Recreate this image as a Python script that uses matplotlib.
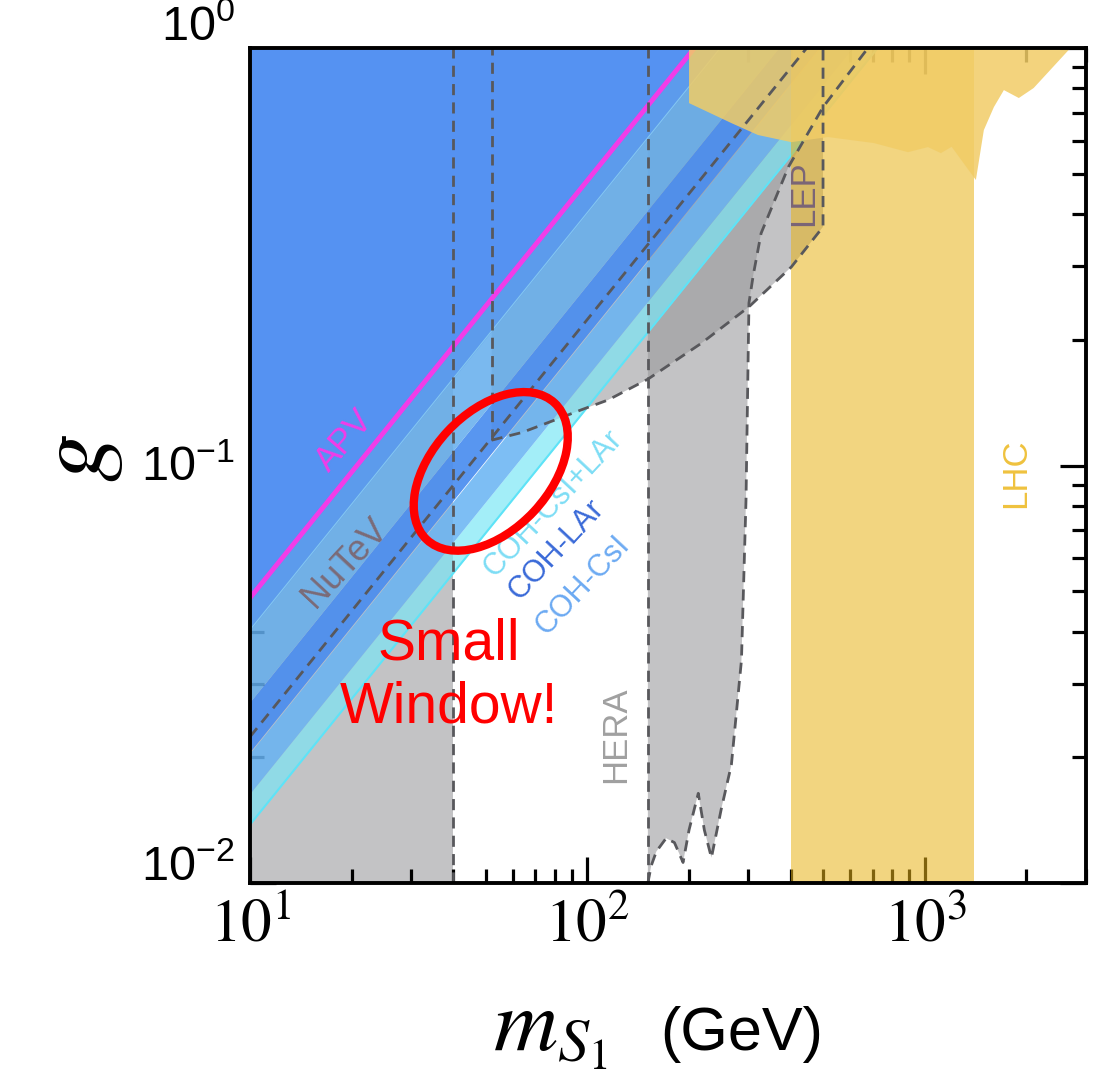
import numpy as np
import matplotlib.pyplot as plt
from matplotlib.patches import Ellipse
from matplotlib.transforms import ScaledTranslation

plt.rcParams['font.family'] = ['Liberation Sans', 'DejaVu Sans']
plt.rcParams['mathtext.fontset'] = 'custom'
plt.rcParams['mathtext.rm'] = 'Liberation Sans'
plt.rcParams['mathtext.it'] = 'Liberation Sans:italic'

# 坐标范围
m_lim = [10, 3000]
g_lim = [0.01, 1.0]

# 斜带边界: g = k * m (log-log 斜率 1)
band_k = [0.00138, 0.00164, 0.00205, 0.00270, 0.00404, 0.00482]
band_colors = ['#78E6F6', '#66B3F3', '#4A8DEF', '#63ADED', '#5C9BEC']
band_alpha = [0.68, 0.85, 0.92, 0.85, 1.0]
top_color = '#5592F2'
apv_k = 0.00482
nutev_k = 0.00224

# 低质量灰区
m_low = 40

# LEP 曲线 (从拐点到顶部)
lep_m = [52, 64, 80, 96, 115, 151, 217, 301, 402, 499, 499]
lep_g = [0.115, 0.120, 0.1285, 0.136, 0.1435, 0.161, 0.196, 0.240, 0.299, 0.373, 1.0]

# HERA 右边界
hera_m = [151, 154.5, 160, 171, 181, 192, 200, 213, 222, 233, 249, 267, 286, 295,
          301, 310, 327, 394, 499, 678]
hera_g = [0.01, 0.0110, 0.0119, 0.0128, 0.0125, 0.0112, 0.0134, 0.0164, 0.0134, 0.0115,
          0.0150, 0.0192, 0.0342, 0.0827, 0.245, 0.286, 0.360, 0.519, 0.722, 1.0]

# LHC
lhc_band = [402, 1397]
lhc_top_m = [200, 200, 267, 320, 402, 516, 706, 891, 1021, 1115, 1200, 1397, 1416,
             1495, 1601, 1714, 1898, 2100, 2280, 2666, 2720]
lhc_top_g = [1.0, 0.738, 0.661, 0.619, 0.595, 0.612, 0.592, 0.563, 0.579, 0.560, 0.58,
             0.49, 0.483, 0.636, 0.722, 0.793, 0.759, 0.802, 0.862, 0.989, 1.0]

gray = '#99999B'
dash_kw = dict(color='#58585C', lw=2.0, ls=(0, (4, 2.6)), zorder=6)

fig = plt.figure(figsize=(10.97, 10.84), dpi=100)
ax = fig.add_axes([0.2279, 0.1854, 0.762, 0.7703])
ax.set_xscale('log')
ax.set_yscale('log')

m_line = np.array(m_lim, dtype=float)

# 灰色排除区
ax.fill_between([m_lim[0], m_low], g_lim[0], g_lim[1], color=gray, alpha=0.58, lw=0, zorder=1)
ax.fill(lep_m + [lep_m[0]], lep_g + [g_lim[1]], color=gray, alpha=0.58, lw=0, zorder=1)
ax.fill(hera_m + [hera_m[0]], hera_g + [g_lim[1]], color=gray, alpha=0.58, lw=0, zorder=1)

# 斜带
for i in range(len(band_colors)):
    ax.fill_between(m_line, band_k[i] * m_line, band_k[i + 1] * m_line,
                    color=band_colors[i], alpha=band_alpha[i], lw=0, zorder=2)
ax.fill_between(m_line, band_k[-1] * m_line, g_lim[1], color=top_color, lw=0, zorder=2)
ax.plot(m_line, band_k[0] * m_line, color='#5EE3F7', lw=1.5, zorder=3)
ax.plot(m_line, band_k[4] * m_line, color='#8ED2F2', lw=0.8, alpha=0.8, zorder=3)
ax.plot(m_line, apv_k * m_line, color='#F23CE8', lw=3.5, zorder=3)

# LHC
ax.fill_between(lhc_band, g_lim[0], g_lim[1], color='#E9B318', alpha=0.55, lw=0, zorder=4)
ax.fill(lhc_top_m, lhc_top_g, color='#F1CC66', alpha=0.85, lw=0, zorder=5)

# 虚线
ax.axvline(m_low, **dash_kw)
ax.axvline(hera_m[0], **dash_kw)
ax.plot([lep_m[0], lep_m[0]], [lep_g[0], g_lim[1]], **dash_kw)
ax.plot(lep_m, lep_g, **dash_kw)
ax.plot(hera_m, hera_g, **dash_kw)
ax.plot(m_line, nutev_k * m_line, **dash_kw)

ax.set_xlim(m_lim)
ax.set_ylim(g_lim)

# 标签
ax.text(19.1, 0.115, 'APV', color='#F23CE8', fontsize=25, rotation=49,
        ha='center', va='center', zorder=7)
ax.text(19.1, 0.0584, 'NuTeV', color='#7B6B78', fontsize=26, rotation=47,
        ha='center', va='center', zorder=7)
ax.text(79.3, 0.0813, 'COH-CsI+LAr', color='#7DDDF5', fontsize=22, rotation=47,
        ha='center', va='center', zorder=7)
ax.text(80.9, 0.0628, 'COH-LAr', color='#3A6AD8', fontsize=22, rotation=47,
        ha='center', va='center', zorder=7)
ax.text(96.6, 0.0517, 'COH-CsI', color='#6CAAF2', fontsize=22, rotation=47,
        ha='center', va='center', zorder=7)
ax.text(121, 0.0226, 'HERA', color='#A0A0A0', fontsize=25, rotation=90,
        ha='center', va='center', zorder=7)
ax.text(438, 0.45, 'LEP', color='#7A6577', fontsize=25, rotation=90,
        ha='center', va='center', zorder=7)
ax.text(1858, 0.096, 'LHC', color='#EFC23E', fontsize=25, rotation=90,
        ha='center', va='center', zorder=7)
ax.text(38.8, 0.0313, 'Small\nWindow!', color='#FF0000', fontsize=41,
        ha='center', va='center', linespacing=1.2, zorder=7)

ax.add_patch(Ellipse((0.288, 0.493), 0.224, 0.141, angle=47, transform=ax.transAxes,
                     fill=False, ec='#FF0000', lw=6, zorder=8))

# 坐标轴样式
for s in ax.spines.values():
    s.set_linewidth(2.8)
    s.set_zorder(9)
ax.tick_params(which='both', direction='in', top=True, right=True, width=2.3)
ax.tick_params(which='major', length=19)
ax.tick_params(which='minor', length=10)
ax.tick_params(axis='x', pad=10)
ax.tick_params(axis='y', pad=11)
ax.set_xticks([10, 100, 1000], [r'$10^{1}$', r'$10^{2}$', r'$10^{3}$'],
              fontsize=44, math_fontfamily='stix')
ax.set_yticks([0.01, 0.1, 1.0], [r'$10^{-2}$', r'$10^{-1}$', r'$10^{0}$'], fontsize=35)
ax.xaxis.set_minor_formatter(plt.NullFormatter())
ax.yaxis.set_minor_formatter(plt.NullFormatter())
for lab, dy in zip(ax.get_yticklabels(), [0.21, 0.02, 0.26]):
    lab.set_transform(lab.get_transform() + ScaledTranslation(0, dy, fig.dpi_scale_trans))

fig.text(80 / 1097, 1 - 458 / 1084, '$g$', rotation=90, fontsize=70,
         math_fontfamily='stix', ha='center', va='center')
fig.text(493 / 1097, 34 / 1084, r'$m_{S_1}$', fontsize=64, math_fontfamily='stix',
         ha='left', va='baseline')
fig.text(660 / 1097, 34 / 1084, '(GeV)', fontsize=44, ha='left', va='baseline')

fig.savefig('out.png', dpi=100)
